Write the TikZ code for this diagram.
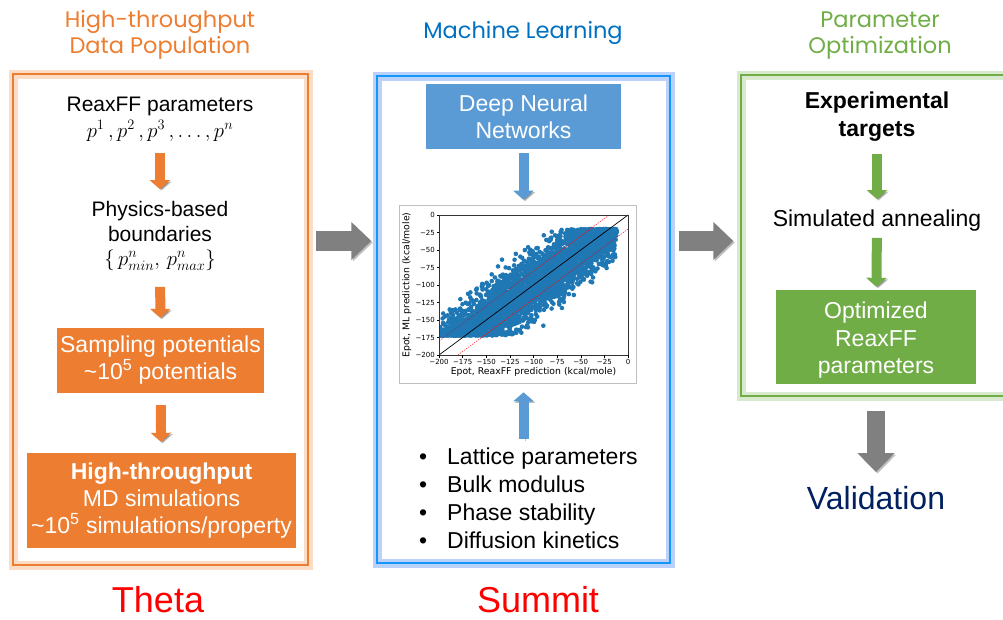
\documentclass[tikz,border=0pt]{standalone}
\usepackage{fontspec}
\setmainfont{Liberation Sans}
\newfontfamily\hdrfont{Poppins}
\newfontfamily\plotfont{DejaVu Sans}
\usepackage{tikz}
\usetikzlibrary{arrows.meta}

\definecolor{thetaOrange}{RGB}{237,125,49}
\definecolor{frameBlue}{RGB}{20,150,250}
\definecolor{glowBlue}{RGB}{140,180,245}
\definecolor{mlBlue}{RGB}{0,112,192}
\definecolor{boxBlue}{RGB}{91,155,213}
\definecolor{optGreen}{RGB}{112,173,71}
\definecolor{arrowGray}{RGB}{128,128,128}
\definecolor{siteRed}{RGB}{255,0,0}
\definecolor{valNavy}{RGB}{0,32,96}
\definecolor{dotBlue}{RGB}{31,119,180}

\begin{document}
\begin{tikzpicture}[x=1pt,y=-1pt]
	\tikzstyle{txt}=[font=\fontsize{21}{24.5}\selectfont, align=center, inner sep=2pt]
	\tikzstyle{hdr}=[font=\hdrfont\fontsize{22.5}{26}\selectfont, align=center, inner sep=2pt]
	\tikzstyle{site}=[font=\fontsize{36}{40}\selectfont, text=siteRed, inner sep=1pt]
	\tikzstyle{box}=[align=center, font=\fontsize{23}{27}\selectfont, text=white, inner sep=0pt]
	\tikzstyle{frame}=[draw, line width=1.5pt, inner sep=0pt]
	\tikzstyle{flow}=[line width=10pt, -{Triangle[width=20pt,length=9pt]},
		preaction={draw=black, opacity=.25, transform canvas={xshift=1.5pt,yshift=-1.5pt}}]
	\tikzstyle{bigflow}=[draw=arrowGray, line width=20pt, -{Triangle[width=37pt,length=20pt]},
		preaction={draw=black, opacity=.25, transform canvas={xshift=1.5pt,yshift=-1.5pt}}]
	\tikzstyle{dot}=[fill=dotBlue]
	\tikzstyle{tick}=[font=\plotfont\fontsize{7}{8}\selectfont, inner sep=1.5pt]
	\tikzstyle{axlab}=[font=\plotfont\fontsize{9.3}{11}\selectfont, inner sep=0pt]

	\useasboundingbox (0,0) rectangle (1003,619);
	\clip (0,0) rectangle (1003,619);

	% data population on Theta
	\node[hdr, text=thetaOrange] (hdrTheta) at (160,35) {High-throughput\\Data Population};
	\node[frame, draw=thetaOrange, preaction={draw=thetaOrange!45, line width=9pt, opacity=.6},
		minimum width=295pt, minimum height=491pt] (theta) at (160.5,319.5) {};
	\node[txt, font=\fontsize{21}{26}\selectfont] (params) at (160,119) {ReaxFF parameters\\$p^1\,, p^2\,, p^3\,, \ldots, p^n$};
	\node[txt] (bounds) at (160,236) {Physics-based\\boundaries\\$\{\,p^n_{min},\, p^n_{max}\}$};
	\node[box, fill=thetaOrange, minimum width=207pt, minimum height=65pt] (sampling) at (160.5,360.5)
		{Sampling potentials\\\textasciitilde10\textsuperscript{5} potentials};
	\node[box, fill=thetaOrange, minimum width=269pt, minimum height=95pt] (mdruns) at (161.5,500.5)
		{\textbf{High-throughput}\\MD simulations\\\textasciitilde10\textsuperscript{5} simulations/property};
	\node[site] (thetaName) at (158,600) {Theta};

	\draw[flow, draw=thetaOrange, shorten <=10pt, shorten >=10pt] (params) -- (bounds);
	\draw[flow, draw=thetaOrange, shorten <=14pt, shorten >=10pt] (bounds) -- (sampling);
	\draw[flow, draw=thetaOrange, shorten <=12pt, shorten >=11pt] (sampling) -- (mdruns);

	% machine learning on Summit
	\node[hdr, text=mlBlue] (hdrSummit) at (523,33) {Machine Learning};
	\node[frame, draw=frameBlue, preaction={draw=glowBlue, line width=9pt, opacity=.6},
		minimum width=293pt, minimum height=487pt] (summit) at (523.5,319.5) {};
	\node[box, fill=boxBlue, minimum width=195pt, minimum height=65pt] (dnn) at (523.5,116.5) {Deep Neural\\Networks};
	\node[draw=black!25, line width=0.6pt, minimum width=237pt, minimum height=178pt, inner sep=0pt] (plot) at (517.5,294) {};

	\begin{scope}[shift={(628,215)}, x=0.945pt, y=0.7pt]
		\begin{scope}
			\clip (-200,-200) rectangle (0,0);
			\pgfmathsetseed{42}
			\foreach \i in {1,...,4000} {
				\pgfmathsetmacro\ex{-200+188*rnd}
				\pgfmathsetmacro\ey{max(-172+4*rnd,min(-20-7*rnd,\ex+20*(rand+rand+rand)+50*rand*rand*rand))}
				\fill[dot] (\ex,\ey) circle (2.3pt);
			}
		\end{scope}
		\draw[red, line width=0.4pt, dash pattern=on 1.5pt off 1pt] (-200,-180) -- (-20,0) (-180,-200) -- (0,-20);
		\draw[line width=0.7pt] (-200,-200) -- (0,0);
		\draw[black!80, line width=0.5pt] (-200,-200) rectangle (0,0);
		\foreach \v/\t in {0/0,-25/−25,-50/−50,-75/−75,-100/−100,-125/−125,-150/−150,-175/−175,-200/−200} {
			\draw[line width=0.4pt] (-200,\v) -- ++(-2.5pt,0) node[left, tick] (yt\v) {\t};
			\draw[line width=0.4pt] (\v,-200) -- ++(0,-2.5pt) node[below, tick] (xt\v) {\t};
		}
		\node[axlab, rotate=90] (ylab) at (-234,-100) {Epot, ML prediction (kcal/mole)};
		\node[axlab] (xlab) at (-100,-224) {Epot, ReaxFF prediction (kcal/mole)};
	\end{scope}

	\node[align=left, inner sep=0pt, anchor=north west, font=\fontsize{23}{28}\selectfont] (props) at (419,448)
		{\makebox[28pt][l]{\textbullet}Lattice parameters\\
		 \makebox[28pt][l]{\textbullet}Bulk modulus\\
		 \makebox[28pt][l]{\textbullet}Phase stability\\
		 \makebox[28pt][l]{\textbullet}Diffusion kinetics};
	\node[site] (summitName) at (538,600) {Summit};

	\draw[flow, draw=boxBlue, shorten <=4pt, shorten >=5pt] (dnn.south) -- (plot.north -| dnn.south);
	\draw[flow, draw=boxBlue, shorten <=9pt, shorten >=9pt] (props.north -| dnn.south) -- (plot.south -| dnn.south);

	% parameter optimization
	\node[hdr, text=optGreen] (hdrOpt) at (880,36) {Parameter\\Optimization};
	\node[frame, draw=optGreen, preaction={draw=optGreen!45, line width=9pt, opacity=.6},
		minimum width=269pt, minimum height=321pt] (optim) at (875.5,235.5) {};
	\node[align=center, inner sep=2pt, font=\bfseries\fontsize{23}{28}\selectfont] (targets) at (877,117) {Experimental\\targets};
	\node[align=center, inner sep=2pt, font=\fontsize{23}{27}\selectfont] (anneal) at (877,221) {Simulated annealing};
	\node[box, fill=optGreen, minimum width=200pt, minimum height=94pt, font=\fontsize{23}{27.5}\selectfont] (reaxBox) at (876,337)
		{\rule{0pt}{23pt}Optimized\\ReaxFF\\parameters};
	\node[font=\fontsize{32}{36}\selectfont, text=valNavy, inner sep=2pt] (valid) at (876,498) {Validation};

	\draw[flow, draw=optGreen, shorten <=10pt, shorten >=9pt] (targets) -- (anneal);
	\draw[flow, draw=optGreen, shorten <=4pt, shorten >=3pt] (anneal) -- (reaxBox);
	\draw[bigflow, line width=18pt, -{Triangle[width=36pt,length=19pt]}, shorten <=27pt, shorten >=12pt] (reaxBox) -- (valid);

	% hand-over between the stages
	\coordinate (handover) at (0,241);
	\draw[bigflow, shorten <=7pt, shorten >=5pt] (theta.east |- handover) -- (summit.west |- handover);
	\draw[bigflow, shorten <=8pt, shorten >=7pt] (summit.east |- handover) -- (optim.west |- handover);
\end{tikzpicture}
\end{document}
